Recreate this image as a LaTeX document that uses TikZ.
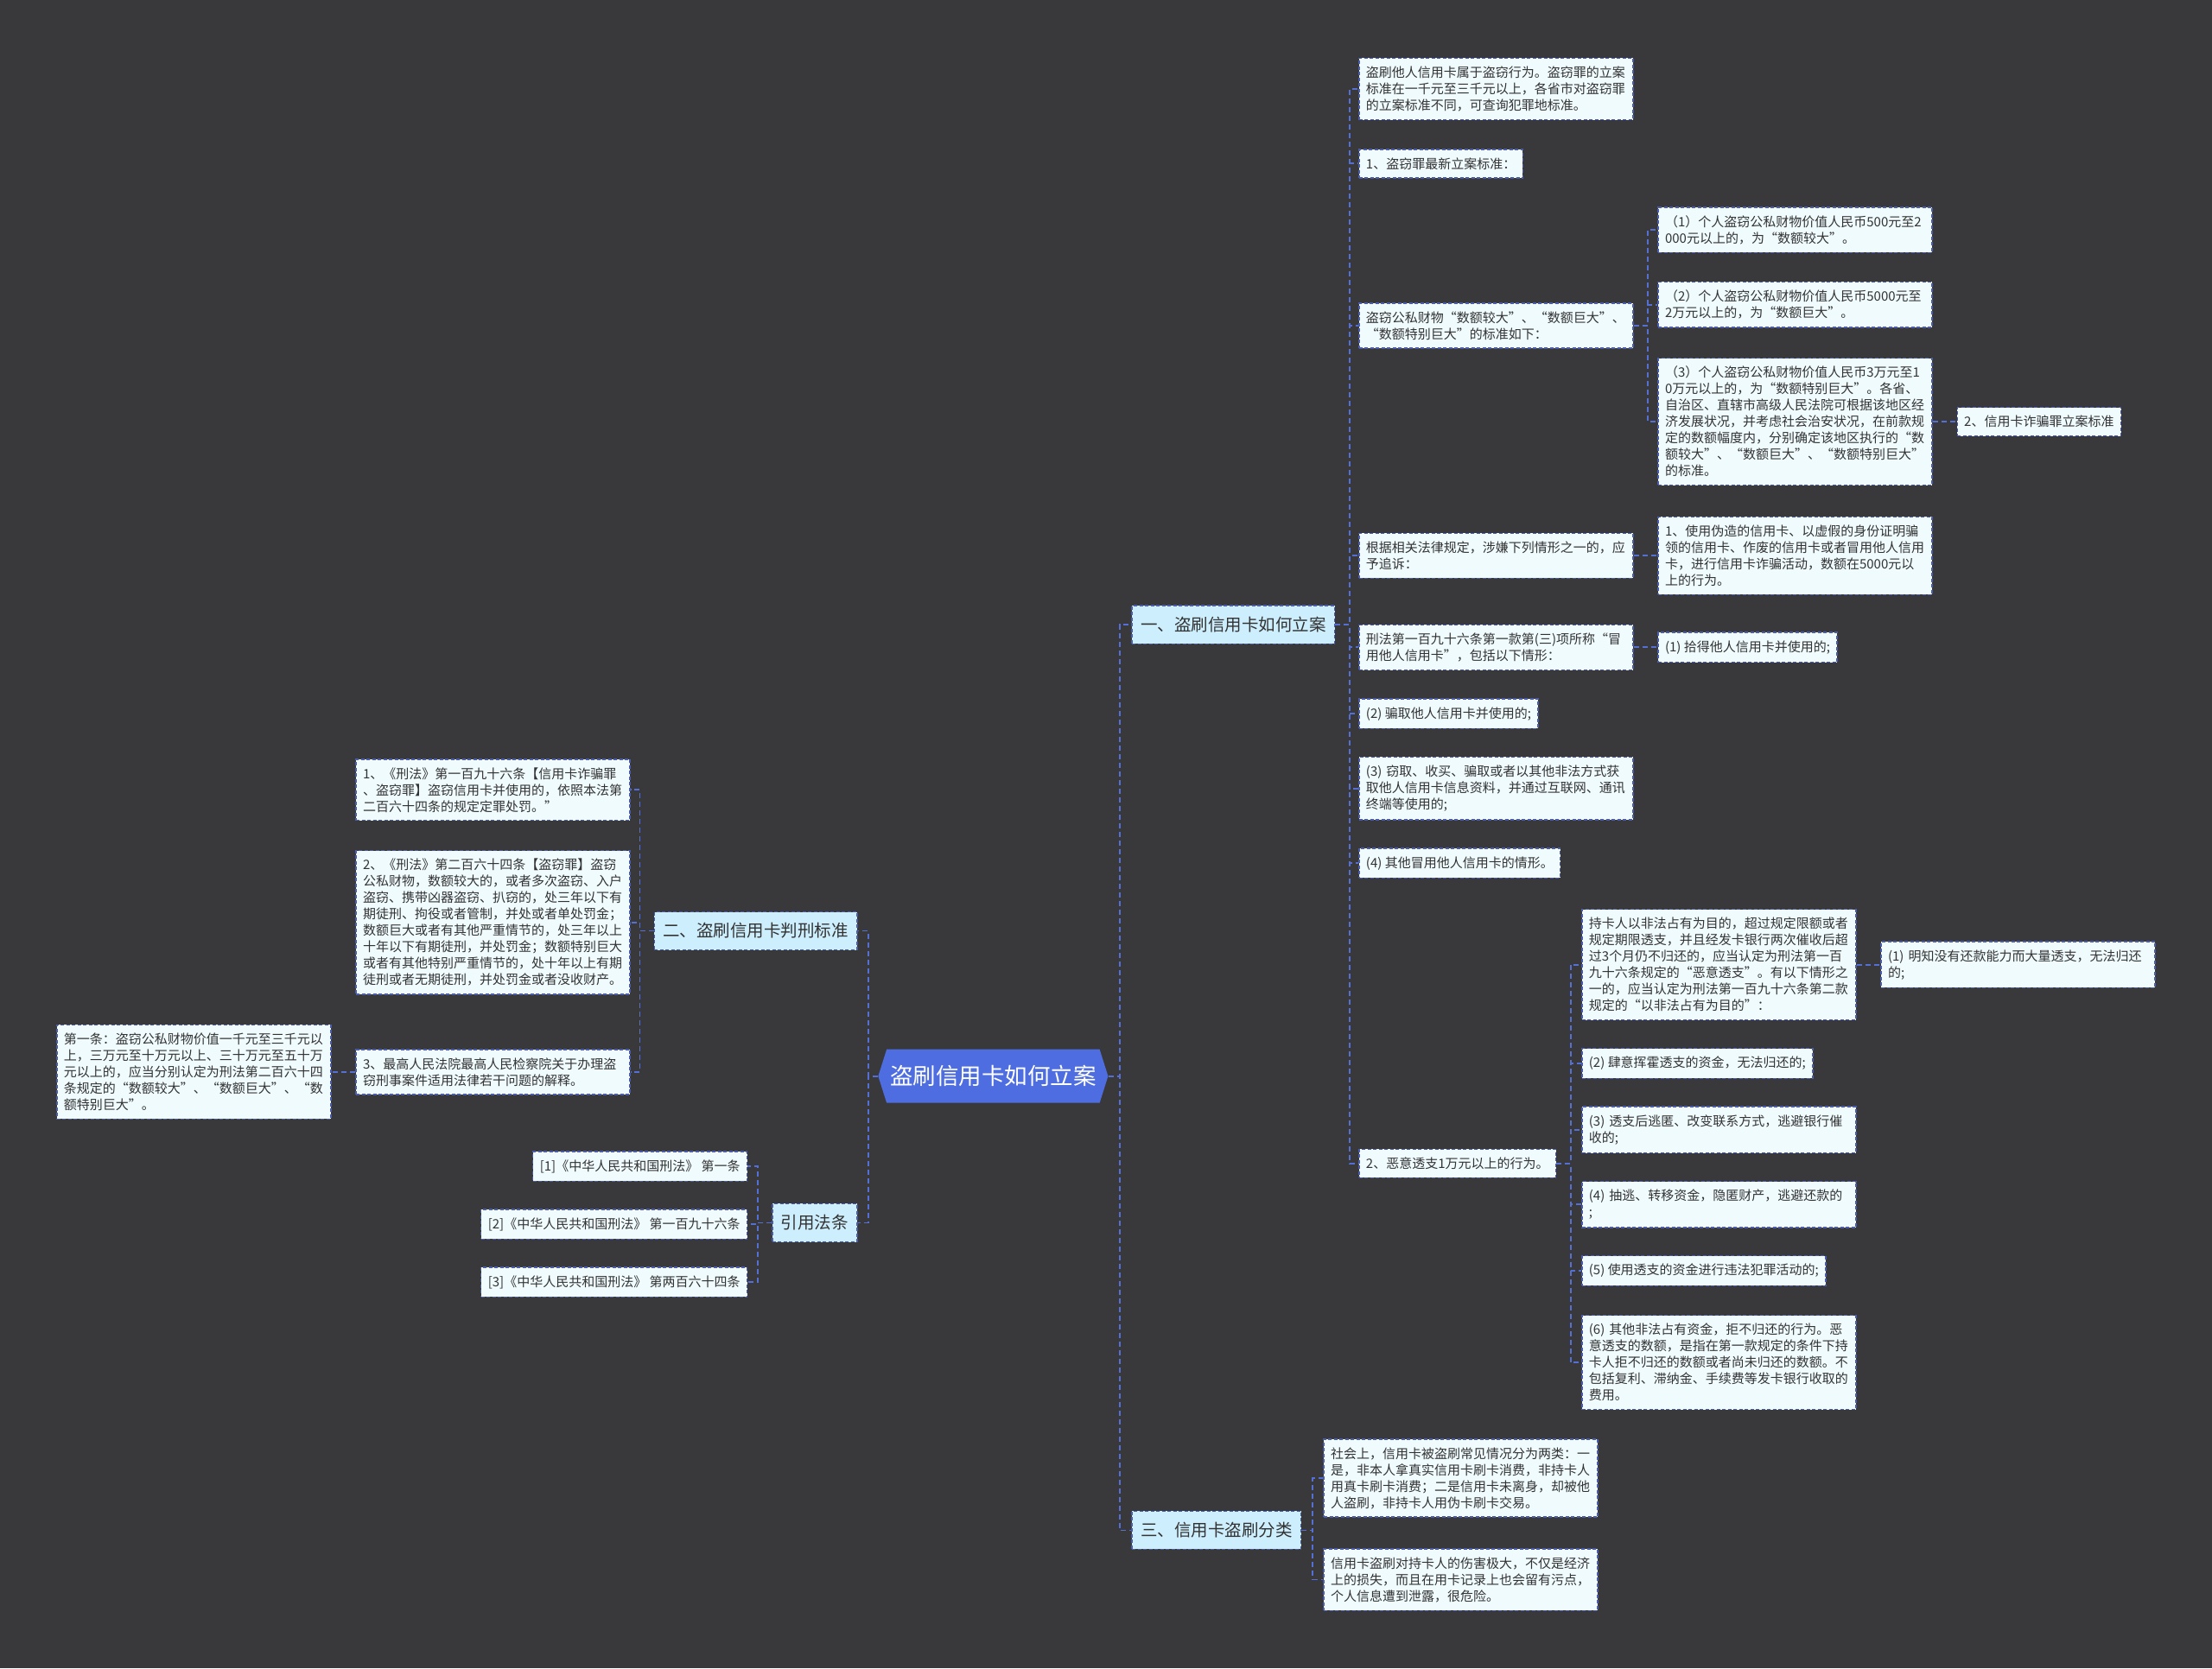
\documentclass[tikz,border=0pt]{standalone}
\usepackage{fontspec}
\newfontfamily\cjk{Noto Sans CJK SC}
\usepackage{tikz}
\usetikzlibrary{shapes.symbols}
\definecolor{bgcol}{HTML}{39393B}
\definecolor{rootfill}{HTML}{4D6DE0}
\definecolor{topicfill}{HTML}{CDEEFC}
\definecolor{leaffill}{HTML}{F0FBFE}
\definecolor{boxline}{HTML}{4A5CAA}
\definecolor{linkcol}{HTML}{5470D6}
\definecolor{txtcol}{HTML}{333333}
\tikzset{
	link/.style={draw=linkcol, line width=1.8pt, dash pattern=on 6pt off 4pt},
	mmbox/.style={draw=boxline, line width=1.4pt, dash pattern=on 4pt off 2.5pt, text=txtcol},
	leaf/.style={mmbox, fill=leaffill, font=\cjk\fontsize{15}{19}\selectfont, align=left, inner xsep=8pt, inner ysep=9.5pt},
	wide/.style={leaf, text width=301pt},
	topic/.style={mmbox, fill=topicfill, font=\cjk\fontsize{19.5}{24}\selectfont, inner xsep=10pt, inner ysep=13pt},
	rootnode/.style={shape=signal, signal to=west and east, signal pointer angle=145, fill=rootfill, text=white, font=\cjk\fontsize{26.5}{30}\selectfont, minimum height=62pt, inner xsep=4pt},
}
\begin{document}
\begin{tikzpicture}[x=1.6327pt, y=-1.6327pt]
		\fill[bgcol] (0,0) rectangle (1568,1183);
		\useasboundingbox (0,0) rectangle (1568,1183);
		\node[rootnode] (root) at (704,763) {盗刷信用卡如何立案};
		%
		\node[topic, anchor=west] (t1) at (802,443) {一、盗刷信用卡如何立案};
		\node[topic, anchor=east] (t2) at (608,660) {二、盗刷信用卡判刑标准};
		\node[topic, anchor=west] (t3) at (802,1085) {三、信用卡盗刷分类};
		\node[topic, anchor=east] (t4) at (608,867) {引用法条};
		%
		\node[wide, anchor=west] (a1) at (963,63) {盗刷他人信用卡属于盗窃行为。盗窃罪的立案\\标准在一千元至三千元以上，各省市对盗窃罪\\的立案标准不同，可查询犯罪地标准。};
		\node[leaf, anchor=west] (a2) at (963,116) {1、盗窃罪最新立案标准：};
		\node[wide, anchor=west] (a3) at (963,231) {盗窃公私财物“数额较大”、“数额巨大”、\\“数额特别巨大”的标准如下：};
		\node[wide, anchor=west] (a4) at (963,394) {根据相关法律规定，涉嫌下列情形之一的，应\\予追诉：};
		\node[wide, anchor=west] (a5) at (963,459) {刑法第一百九十六条第一款第(三)项所称“冒\\用他人信用卡”，包括以下情形：};
		\node[leaf, anchor=west] (a6) at (963,506) {(2) 骗取他人信用卡并使用的;};
		\node[wide, anchor=west] (a7) at (963,559) {(3) 窃取、收买、骗取或者以其他非法方式获\\取他人信用卡信息资料，并通过互联网、通讯\\终端等使用的;};
		\node[leaf, anchor=west] (a8) at (963,612) {(4) 其他冒用他人信用卡的情形。};
		\node[leaf, anchor=west] (a9) at (963,825) {2、恶意透支1万元以上的行为。};
		%
		\node[wide, anchor=west] (c1) at (1175,163) {（1）个人盗窃公私财物价值人民币500元至2\\000元以上的，为“数额较大”。};
		\node[wide, anchor=west] (c2) at (1175,216) {（2）个人盗窃公私财物价值人民币5000元至\\2万元以上的，为“数额巨大”。};
		\node[wide, anchor=west] (c3) at (1175,299) {（3）个人盗窃公私财物价值人民币3万元至1\\0万元以上的，为“数额特别巨大”。各省、\\自治区、直辖市高级人民法院可根据该地区经\\济发展状况，并考虑社会治安状况，在前款规\\定的数额幅度内，分别确定该地区执行的“数\\额较大”、“数额巨大”、“数额特别巨大”\\的标准。};
		\node[leaf, anchor=west] (c3x) at (1387,299) {2、信用卡诈骗罪立案标准};
		\node[wide, anchor=west] (a4x) at (1175,394) {1、使用伪造的信用卡、以虚假的身份证明骗\\领的信用卡、作废的信用卡或者冒用他人信用\\卡，进行信用卡诈骗活动，数额在5000元以\\上的行为。};
		\node[leaf, anchor=west] (a5x) at (1175,459) {(1) 拾得他人信用卡并使用的;};
		%
		\node[wide, anchor=west] (d1) at (1121,684) {持卡人以非法占有为目的，超过规定限额或者\\规定期限透支，并且经发卡银行两次催收后超\\过3个月仍不归还的，应当认定为刑法第一百\\九十六条规定的“恶意透支”。有以下情形之\\一的，应当认定为刑法第一百九十六条第二款\\规定的“以非法占有为目的”：};
		\node[wide, anchor=west] (d1x) at (1333,684) {(1) 明知没有还款能力而大量透支，无法归还\\的;};
		\node[leaf, anchor=west] (d2) at (1121,754) {(2) 肆意挥霍透支的资金，无法归还的;};
		\node[wide, anchor=west] (d3) at (1121,801) {(3) 透支后逃匿、改变联系方式，逃避银行催\\收的;};
		\node[wide, anchor=west] (d4) at (1121,854) {(4) 抽逃、转移资金，隐匿财产，逃避还款的\\;};
		\node[leaf, anchor=west] (d5) at (1121,901) {(5) 使用透支的资金进行违法犯罪活动的;};
		\node[wide, anchor=west] (d6) at (1121,966) {(6) 其他非法占有资金，拒不归还的行为。恶\\意透支的数额，是指在第一款规定的条件下持\\卡人拒不归还的数额或者尚未归还的数额。不\\包括复利、滞纳金、手续费等发卡银行收取的\\费用。};
		%
		\node[wide, anchor=west] (e1) at (938,1048) {社会上，信用卡被盗刷常见情况分为两类：一\\是，非本人拿真实信用卡刷卡消费，非持卡人\\用真卡刷卡消费；二是信用卡未离身，却被他\\人盗刷，非持卡人用伪卡刷卡交易。};
		\node[wide, anchor=west] (e2) at (938,1120) {信用卡盗刷对持卡人的伤害极大，不仅是经济\\上的损失，而且在用卡记录上也会留有污点，\\个人信息遭到泄露，很危险。};
		%
		\node[wide, anchor=east] (f1) at (447,560) {1、《刑法》第一百九十六条【信用卡诈骗罪\\、盗窃罪】盗窃信用卡并使用的，依照本法第\\二百六十四条的规定定罪处罚。”};
		\node[wide, anchor=east] (f2) at (447,654) {2、《刑法》第二百六十四条【盗窃罪】盗窃\\公私财物，数额较大的，或者多次盗窃、入户\\盗窃、携带凶器盗窃、扒窃的，处三年以下有\\期徒刑、拘役或者管制，并处或者单处罚金；\\数额巨大或者有其他严重情节的，处三年以上\\十年以下有期徒刑，并处罚金；数额特别巨大\\或者有其他特别严重情节的，处十年以上有期\\徒刑或者无期徒刑，并处罚金或者没收财产。};
		\node[wide, anchor=east] (f3) at (447,760) {3、最高人民法院最高人民检察院关于办理盗\\窃刑事案件适用法律若干问题的解释。};
		\node[wide, anchor=east] (f3x) at (235,760) {第一条：盗窃公私财物价值一千元至三千元以\\上，三万元至十万元以上、三十万元至五十万\\元以上的，应当分别认定为刑法第二百六十四\\条规定的“数额较大”、“数额巨大”、“数\\额特别巨大”。};
		%
		\node[leaf, anchor=east] (g1) at (530,827) {[1]《中华人民共和国刑法》 第一条};
		\node[leaf, anchor=east] (g2) at (530,868) {[2]《中华人民共和国刑法》 第一百九十六条};
		\node[leaf, anchor=east] (g3) at (530,909) {[3]《中华人民共和国刑法》 第两百六十四条};
		%
		\draw[link] (root.east) -- ++(8,0) |- (t1.west);
		\draw[link] (root.east) -- ++(8,0) |- (t3.west);
		\draw[link] (root.west) -- ++(-7,0) |- (t2.east);
		\draw[link] (root.west) -- ++(-7,0) |- (t4.east);
		%
		\draw[link] (t1.east) -- ++(10,0) |- (a1.west);
		\draw[link] (t1.east) -- ++(10,0) |- (a2.west);
		\draw[link] (t1.east) -- ++(10,0) |- (a3.west);
		\draw[link] (t1.east) -- ++(10,0) |- (a4.west);
		\draw[link] (t1.east) -- ++(10,0) |- (a5.west);
		\draw[link] (t1.east) -- ++(10,0) |- (a6.west);
		\draw[link] (t1.east) -- ++(10,0) |- (a7.west);
		\draw[link] (t1.east) -- ++(10,0) |- (a8.west);
		\draw[link] (t1.east) -- ++(10,0) |- (a9.west);
		%
		\draw[link] (a3.east) -- ++(10,0) |- (c1.west);
		\draw[link] (a3.east) -- ++(10,0) |- (c2.west);
		\draw[link] (a3.east) -- ++(10,0) |- (c3.west);
		\draw[link] (c3.east) -- (c3x.west);
		\draw[link] (a4.east) -- (a4x.west);
		\draw[link] (a5.east) -- (a5x.west);
		%
		\draw[link] (a9.east) -- ++(10,0) |- (d1.west);
		\draw[link] (a9.east) -- ++(10,0) |- (d2.west);
		\draw[link] (a9.east) -- ++(10,0) |- (d3.west);
		\draw[link] (a9.east) -- ++(10,0) |- (d4.west);
		\draw[link] (a9.east) -- ++(10,0) |- (d5.west);
		\draw[link] (a9.east) -- ++(10,0) |- (d6.west);
		\draw[link] (d1.east) -- (d1x.west);
		%
		\draw[link] (t3.east) -- ++(8,0) |- (e1.west);
		\draw[link] (t3.east) -- ++(8,0) |- (e2.west);
		%
		\draw[link] (t2.west) -- ++(-10,0) |- (f1.east);
		\draw[link] (t2.west) -- ++(-10,0) |- (f2.east);
		\draw[link] (t2.west) -- ++(-10,0) |- (f3.east);
		\draw[link] (f3.west) -- (f3x.east);
		%
		\draw[link] (t4.west) -- ++(-10,0) |- (g1.east);
		\draw[link] (t4.west) -- ++(-10,0) |- (g2.east);
		\draw[link] (t4.west) -- ++(-10,0) |- (g3.east);
	\end{tikzpicture}
\end{document}
